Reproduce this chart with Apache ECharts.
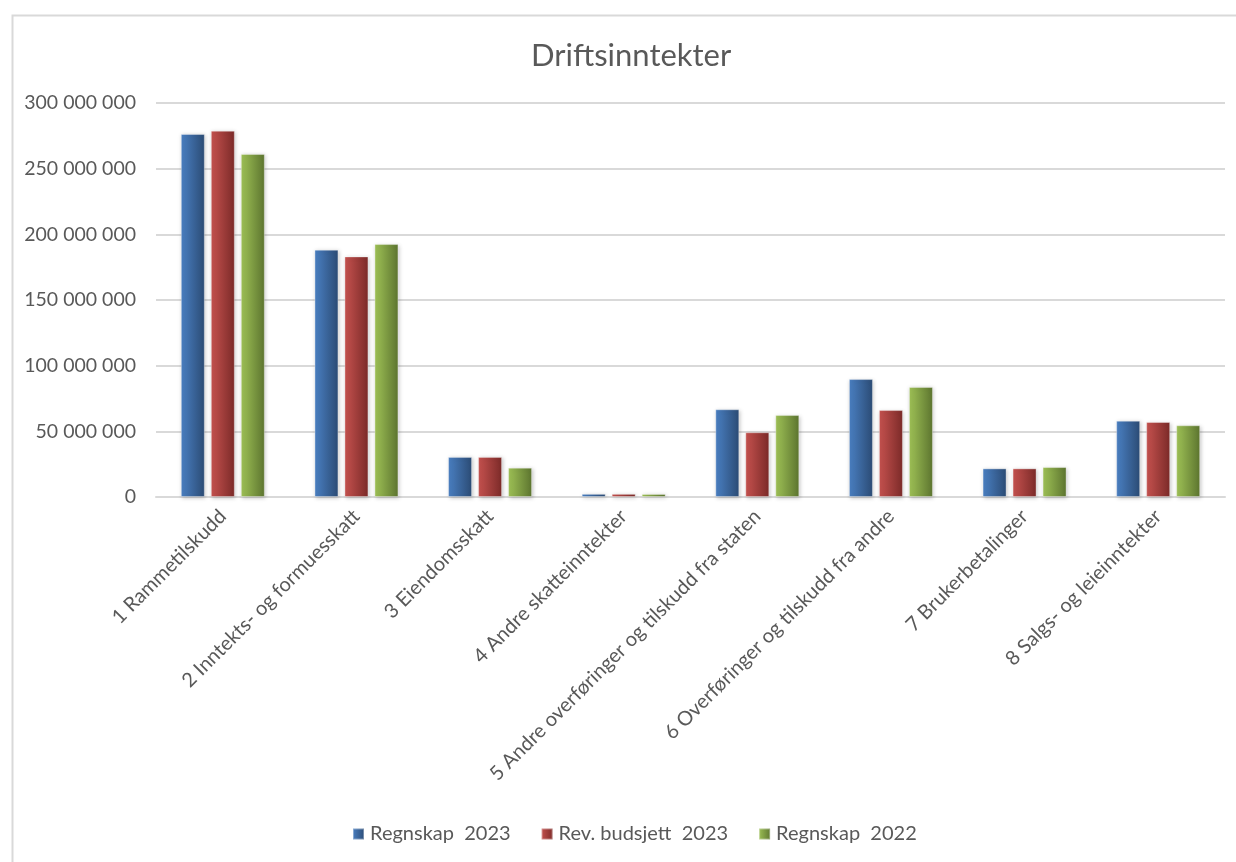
<!DOCTYPE html>
<html>
<head>
<meta charset="utf-8">
<title>Driftsinntekter</title>
<script src="https://cdn.jsdelivr.net/npm/echarts@6/dist/echarts.min.js"></script>
<style>
  html, body { margin: 0; padding: 0; background: #ffffff; }
  #chart { width: 1236px; height: 862px; }
</style>
</head>
<body>
<div id="chart"></div>
<script>
// Driftsinntekter per art (kroner)
const categories = [
  '1 Rammetilskudd',
  '2 Inntekts- og formuesskatt',
  '3 Eiendomsskatt',
  '4 Andre skatteinntekter',
  '5 Andre overføringer og tilskudd fra staten',
  '6 Overføringer og tilskudd fra andre',
  '7 Brukerbetalinger',
  '8 Salgs- og leieinntekter'
];

const regnskap2023 = [276400000, 188300000, 30500000, 2400000, 66800000, 89800000, 21800000, 58100000];
const revBudsjett2023 = [278900000, 183200000, 30500000, 2400000, 49300000, 66200000, 21800000, 57100000];
const regnskap2022 = [261200000, 192600000, 22300000, 2300000, 62400000, 83800000, 22800000, 54600000];

const seriesNames = ['Regnskap  2023', 'Rev. budsjett  2023', 'Regnskap  2022'];

const yMin = 0;
const yMax = 300000000;
const yStep = 50000000;

const FONT = 'Lato';
const TEXT = '#595959';

// Bevelled look: light on the left edge, dark on the right edge
function shade(light, dark) {
  return new echarts.graphic.LinearGradient(0, 0, 1, 0, [
    { offset: 0, color: light },
    { offset: 1, color: dark }
  ]);
}

const palette = [
  shade('#4a80c3', '#2b4b74'),
  shade('#c6524f', '#7b2a28'),
  shade('#9fc256', '#5c742f')
];

function spaced(v) {
  return String(v).replace(/\B(?=(\d{3})+(?!\d))/g, ' ');
}

const values = [regnskap2023, revBudsjett2023, regnskap2022];

const chart = echarts.init(document.getElementById('chart'), null, { renderer: 'canvas' });

chart.setOption({
  animation: false,
  backgroundColor: '#ffffff',
  textStyle: { fontFamily: FONT, color: TEXT },
  graphic: [{
    type: 'rect',
    left: 10,
    top: 13,
    shape: { width: 1240, height: 900 },
    style: { fill: 'none', stroke: '#d9d9d9', lineWidth: 2 },
    silent: true,
    z: -1
  }],
  title: {
    text: 'Driftsinntekter',
    left: 526,
    top: 35,
    textStyle: { fontFamily: FONT, fontSize: 31, fontWeight: 'normal', color: TEXT }
  },
  legend: {
    bottom: 13,
    left: 347,
    icon: 'rect',
    itemWidth: 11,
    itemHeight: 11,
    itemGap: 30,
    textStyle: { fontFamily: FONT, fontSize: 20, color: TEXT, padding: [0, 0, 0, 1] },
    data: seriesNames
  },
  grid: { left: 156, right: 11, top: 103, bottom: 365, containLabel: false },
  xAxis: {
    type: 'category',
    data: categories,
    axisTick: { show: false },
    axisLine: { lineStyle: { color: '#d9d9d9', width: 2 } },
    axisLabel: {
      rotate: 45,
      interval: 0,
      margin: 16,
      fontFamily: FONT,
      fontSize: 20,
      color: TEXT
    }
  },
  yAxis: {
    type: 'value',
    min: yMin,
    max: yMax,
    interval: yStep,
    axisLine: { show: false },
    axisTick: { show: false },
    splitLine: { lineStyle: { color: '#d9d9d9', width: 2 } },
    axisLabel: {
      margin: 20,
      fontFamily: FONT,
      fontSize: 19.5,
      color: TEXT,
      formatter: spaced
    }
  },
  series: seriesNames.map((name, i) => ({
    name: name,
    type: 'bar',
    data: values[i],
    barWidth: 24,
    barGap: '25%',
    itemStyle: {
      color: palette[i],
      borderColor: 'rgba(255,255,255,0.35)',
      borderWidth: 1,
      shadowColor: 'rgba(0,0,0,0.22)',
      shadowBlur: 4,
      shadowOffsetX: 1,
      shadowOffsetY: 1
    }
  }))
});
</script>
</body>
</html>
